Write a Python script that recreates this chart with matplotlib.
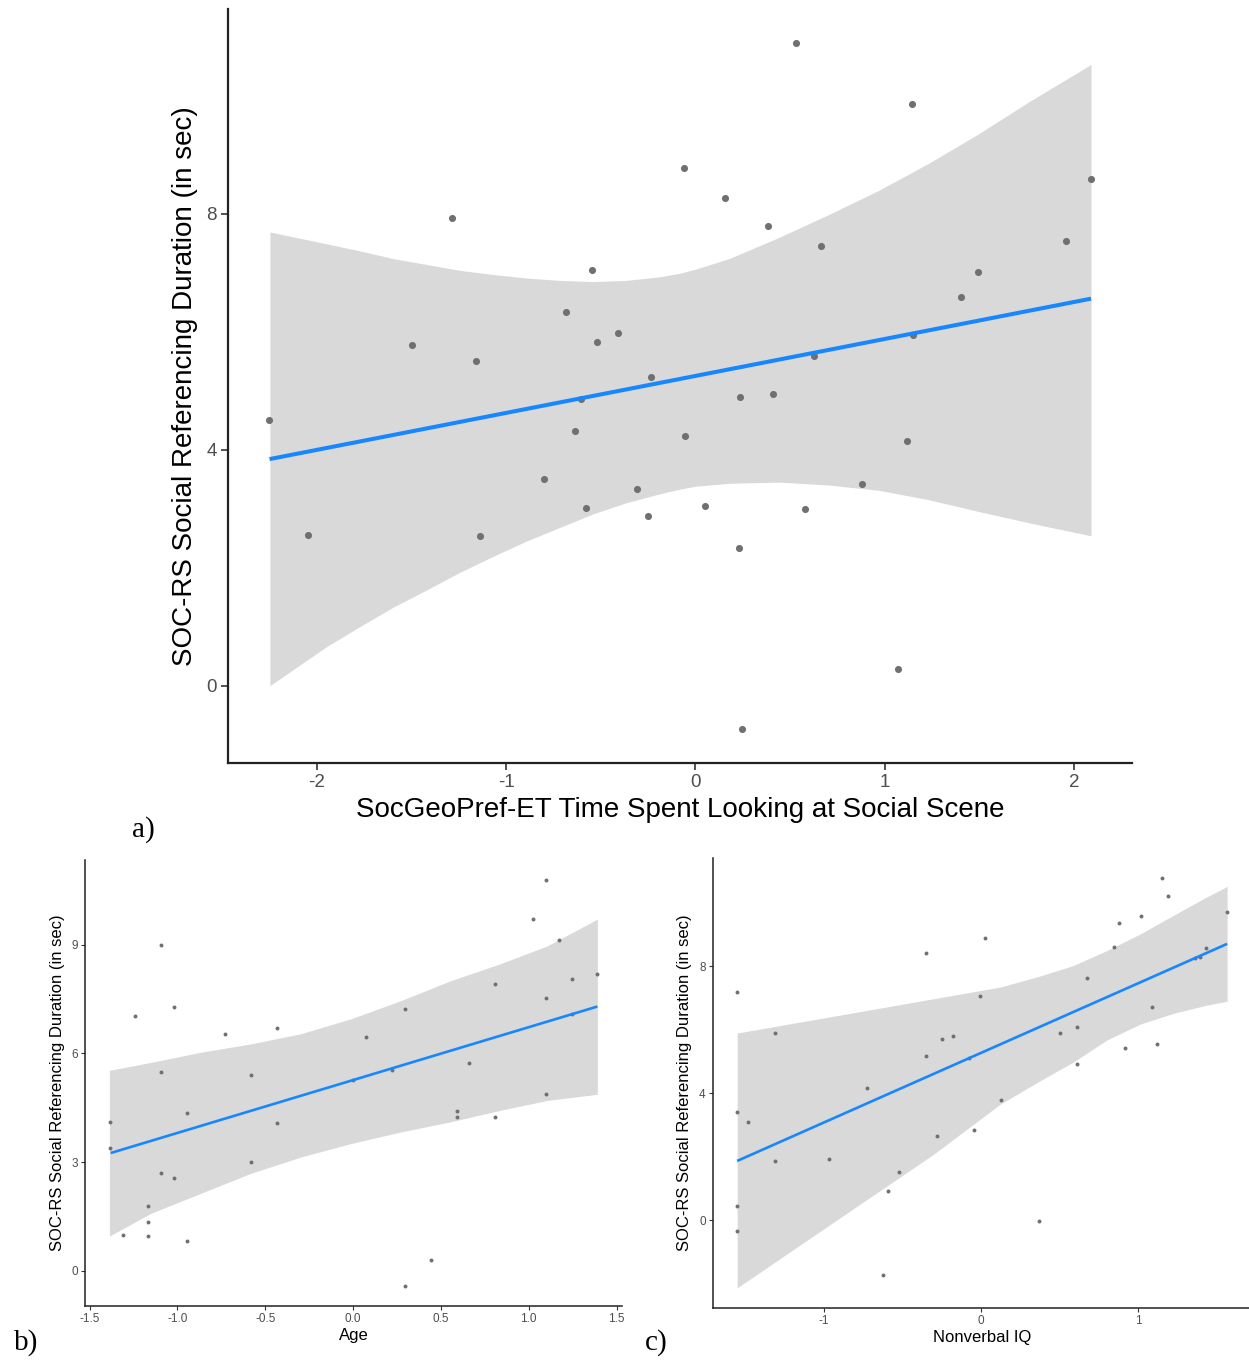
import matplotlib.pyplot as plt

plt.rcParams["font.family"] = ["Liberation Sans", "DejaVu Sans"]
plt.rcParams["axes.unicode_minus"] = False

# a) eye-tracking social preference vs social referencing duration
social_x = [-2.252, -2.049, -1.284, -1.495, -1.161, -1.136, -0.801, -0.682, -0.545,
            -0.522, -0.410, -0.603, -0.635, -0.577, -0.310, -0.232, -0.252, -0.062,
            -0.056, 0.053, 0.158, 0.236, 0.228, 0.244, 0.384, 0.412, 0.529, 0.577,
            0.666, 0.628, 0.880, 1.070, 1.120, 1.144, 1.149, 1.402, 1.495, 1.959, 2.088]
social_y = [4.50, 2.56, 7.93, 5.77, 5.51, 2.54, 3.51, 6.33, 7.05,
            5.83, 5.97, 4.86, 4.32, 3.01, 3.33, 5.23, 2.88, 8.78,
            4.24, 3.05, 8.26, 4.90, 2.33, -0.73, 7.80, 4.95, 10.89, 3.00,
            7.46, 5.58, 3.42, 0.29, 4.15, 9.86, 5.94, 6.59, 7.02, 7.53, 8.59]
social_fit_x = [-2.25, 2.09]
social_fit_y = [3.84, 6.56]
social_band_x = [-2.248, -1.949, -1.773, -1.597, -1.421, -1.245, -1.070, -0.893, -0.718,
                 -0.542, -0.366, -0.190, -0.084, 0.000, 0.179, 0.443, 0.707, 0.971,
                 1.235, 1.499, 1.763, 2.090]
social_band_hi = [7.69, 7.49, 7.37, 7.24, 7.14, 7.04, 6.97, 6.91, 6.87,
                  6.85, 6.87, 6.93, 6.99, 7.06, 7.24, 7.60, 7.99, 8.40,
                  8.86, 9.36, 9.90, 10.53]
social_band_lo = [0.00, 0.66, 1.00, 1.33, 1.62, 1.92, 2.19, 2.45, 2.68,
                  2.91, 3.10, 3.25, 3.33, 3.38, 3.43, 3.45, 3.40, 3.31,
                  3.15, 2.95, 2.76, 2.54]

# b) age
age_x = [-1.385, -1.385, -1.311, -1.239, -1.165, -1.165, -1.165, -1.093, -1.093,
         -1.093, -1.021, -1.021, -0.945, -0.945, -0.728, -0.582, -0.582, -0.435,
         -0.435, 0.002, 0.076, 0.224, 0.296, 0.296, 0.442, 0.590, 0.590, 0.662,
         0.807, 0.807, 1.027, 1.099, 1.099, 1.099, 1.173, 1.245, 1.245, 1.391]
age_y = [4.11, 3.39, 0.99, 7.04, 1.79, 1.36, 0.97, 8.99, 5.48,
         2.71, 7.27, 2.55, 4.36, 0.83, 6.52, 5.39, 3.01, 6.70,
         4.09, 5.27, 6.45, 5.55, 7.21, -0.41, 0.30, 4.41, 4.24, 5.72,
         7.90, 4.24, 9.69, 10.77, 7.53, 4.88, 9.12, 8.06, 7.09, 8.20]
age_fit_x = [-1.380, 1.391]
age_fit_y = [3.25, 7.29]
age_band_x = [-1.387, -1.150, -0.866, -0.582, -0.297, -0.013, 0.271, 0.555, 0.839, 1.105, 1.391]
age_band_hi = [5.53, 5.75, 6.03, 6.26, 6.54, 6.95, 7.45, 8.00, 8.47, 8.96, 9.70]
age_band_lo = [0.96, 1.59, 2.14, 2.69, 3.14, 3.51, 3.83, 4.11, 4.43, 4.70, 4.87]

# c) nonverbal IQ
iq_x = [-1.549, -1.549, -1.549, -1.549, -1.482, -1.308, -1.308, -0.968, -0.726,
        -0.625, -0.591, -0.523, -0.352, -0.352, -0.282, -0.248, -0.180, -0.079,
        -0.009, 0.025, -0.043, 0.127, 0.366, 0.503, 0.607, 0.607, 0.675, 0.846,
        0.880, 0.914, 1.016, 1.086, 1.119, 1.153, 1.187, 1.361, 1.392, 1.429, 1.564]
iq_y = [7.20, 3.40, 0.46, -0.33, 3.10, 5.89, 1.87, 1.93, 4.16,
        -1.72, 0.93, 1.53, 8.42, 5.19, 2.66, 5.72, 5.80, 5.12,
        7.07, 8.91, 2.83, 3.79, -0.02, 5.90, 6.08, 4.91, 7.64, 8.61,
        9.38, 5.42, 9.60, 6.71, 5.54, 10.77, 10.21, 8.27, 8.31, 8.57, 9.70]
iq_fit_x = [-1.549, 1.564]
iq_fit_y = [1.87, 8.71]
iq_band_x = [-1.549, -0.936, -0.301, 0.123, 0.377, 0.588, 0.800, 1.011, 1.223, 1.435, 1.564]
iq_band_hi = [5.90, 6.43, 6.98, 7.35, 7.70, 8.03, 8.50, 9.02, 9.61, 10.19, 10.52]
iq_band_lo = [-2.13, -0.06, 2.08, 3.66, 4.40, 4.99, 5.68, 6.18, 6.52, 6.78, 6.90]

Y_TITLE = "SOC-RS Social Referencing Duration (in sec)"
BAND = "#d9d9d9"
POINT = "#707070"
LINE = "#1787ff"


def draw_panel(ax, x, y, fit_x, fit_y, band_x, band_hi, band_lo, big):
    ax.fill_between(band_x, band_lo, band_hi, color=BAND, linewidth=0, zorder=1)
    ax.scatter(x, y, s=26 if big else 8, color=POINT, linewidths=0, zorder=2)
    ax.plot(fit_x, fit_y, color=LINE, lw=2.9 if big else 1.9,
            solid_capstyle="butt", zorder=3)
    ax.margins(x=0.05, y=0.05)
    for side in ("top", "right"):
        ax.spines[side].set_visible(False)
    for side in ("left", "bottom"):
        ax.spines[side].set_linewidth(1.6 if big else 1.1)
        ax.spines[side].set_color("#222222")
    ax.tick_params(length=5 if big else 3, width=1.2 if big else 0.8,
                   color="#333333", labelcolor="#4d4d4d",
                   labelsize=13.5 if big else 8.5, pad=3 if big else 2)


fig = plt.figure(figsize=(12.49, 13.60), dpi=100)

ax_a = fig.add_axes([0.1826, 0.4390, 0.7238, 0.5544])
draw_panel(ax_a, social_x, social_y, social_fit_x, social_fit_y,
           social_band_x, social_band_hi, social_band_lo, big=True)
ax_a.set_xticks([-2, -1, 0, 1, 2])
ax_a.set_yticks([0, 4, 8])
ax_a.set_xlabel("SocGeoPref-ET Time Spent Looking at Social Scene", fontsize=20, labelpad=4)
ax_a.set_ylabel(Y_TITLE, fontsize=20, labelpad=6)

ax_b = fig.add_axes([0.0681, 0.0397, 0.4297, 0.3279])
draw_panel(ax_b, age_x, age_y, age_fit_x, age_fit_y,
           age_band_x, age_band_hi, age_band_lo, big=False)
ax_b.set_xticks([-1.5, -1.0, -0.5, 0.0, 0.5, 1.0, 1.5])
ax_b.set_xticklabels(["-1.5", "-1.0", "-0.5", "0.0", "0.5", "1.0", "1.5"])
ax_b.set_yticks([0, 3, 6, 9])
ax_b.set_xlabel("Age", fontsize=12, labelpad=2)
ax_b.set_ylabel(Y_TITLE, fontsize=12, labelpad=5)

ax_c = fig.add_axes([0.5706, 0.0380, 0.4315, 0.3311])
draw_panel(ax_c, iq_x, iq_y, iq_fit_x, iq_fit_y,
           iq_band_x, iq_band_hi, iq_band_lo, big=False)
ax_c.set_xticks([-1, 0, 1])
ax_c.set_yticks([0, 4, 8])
ax_c.set_xlabel("Nonverbal IQ", fontsize=12, labelpad=2)
ax_c.set_ylabel(Y_TITLE, fontsize=12, labelpad=5)

# panel letters
serif = ["Liberation Serif", "DejaVu Serif"]
fig.text(143 / 1249, 1 - 830 / 1360, "a)", fontsize=21, family=serif, ha="center", va="center")
fig.text(26 / 1249, 1 - 1343 / 1360, "b)", fontsize=21, family=serif, ha="center", va="center")
fig.text(656 / 1249, 1 - 1343 / 1360, "c)", fontsize=21, family=serif, ha="center", va="center")

fig.savefig("out.png", dpi=100, facecolor="white")
